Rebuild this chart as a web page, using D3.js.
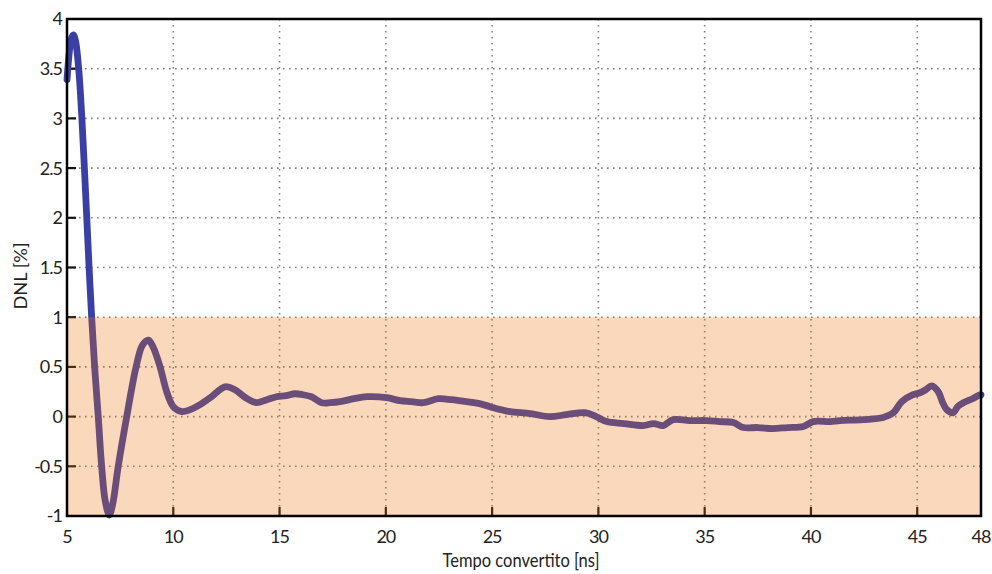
<!DOCTYPE html>
<html>
<head>
<meta charset="utf-8">
<script src="https://cdn.jsdelivr.net/npm/d3@7/dist/d3.min.js"></script>
<style>
  html, body { margin: 0; padding: 0; background: #fff; }
  svg { display: block; }
  .tick-label { font-family: Lato, "Open Sans", Arial, sans-serif; font-size: 18px; letter-spacing: -1px; fill: #222; }
  .axis-title { font-family: Lato, "Open Sans", Arial, sans-serif; fill: #222; }
</style>
</head>
<body>
<svg id="chart" width="992" height="574"></svg>
<script>
// Converted time (ns) and differential non-linearity (%)
const tempoNs = [
  5.00, 5.10, 5.20, 5.30, 5.40, 5.55, 5.70, 5.93, 6.04, 6.16,
  6.30, 6.47, 6.63, 6.80, 6.99, 7.15, 7.41, 7.81, 8.25, 8.55,
  8.83, 9.05, 9.38, 9.69, 10.0, 10.4, 10.8, 11.26, 11.8, 12.43,
  12.9, 13.4, 13.92, 14.4, 14.86, 15.3, 15.73, 16.1, 16.5, 16.98,
  17.4, 17.84, 18.5, 19.1, 20.04, 20.67, 21.2, 21.76, 22.47, 23.1,
  23.8, 24.4, 24.9, 25.4, 25.84, 26.8, 27.72, 28.5, 29.37, 29.9,
  30.39, 31.2, 32.1, 32.6, 33.05, 33.52, 34.3, 35.1, 35.7, 36.35,
  36.82, 37.5, 38.2, 38.9, 39.64, 40.1, 40.9, 41.36, 42.46, 43.4,
  43.88, 44.27, 44.8, 45.13, 45.4, 45.68, 45.99, 46.2, 46.39, 46.7,
  46.9, 47.17, 47.6, 47.95, 48.0
];
const dnlPct = [
  3.39, 3.65, 3.80, 3.84, 3.78, 3.50, 3.00, 2.00, 1.50, 1.00,
  0.50, 0.00, -0.50, -0.85, -0.99, -0.88, -0.50, 0.00, 0.50, 0.72,
  0.77, 0.70, 0.50, 0.25, 0.10, 0.05, 0.07, 0.12, 0.20, 0.30,
  0.27, 0.19, 0.14, 0.17, 0.20, 0.21, 0.23, 0.22, 0.20, 0.14,
  0.14, 0.15, 0.18, 0.20, 0.19, 0.16, 0.15, 0.14, 0.18, 0.17,
  0.15, 0.13, 0.10, 0.07, 0.05, 0.03, 0.00, 0.02, 0.04, 0.00,
  -0.05, -0.07, -0.09, -0.07, -0.09, -0.03, -0.04, -0.04, -0.05, -0.06,
  -0.11, -0.11, -0.12, -0.11, -0.10, -0.05, -0.05, -0.04, -0.03, -0.01,
  0.04, 0.15, 0.22, 0.24, 0.27, 0.31, 0.25, 0.14, 0.07, 0.04,
  0.10, 0.14, 0.18, 0.22, 0.22
];
const xTicks = [5, 10, 15, 20, 25, 30, 35, 40, 45, 48];
const yTicks = [-1, -0.5, 0, 0.5, 1, 1.5, 2, 2.5, 3, 3.5, 4];
const toleranceBand = [-1, 1];

const svg = d3.select("#chart");
const mLeft = 67, mRight = 981, mTop = 19, mBottom = 516;

const x = d3.scaleLinear().domain([5, 48]).range([mLeft, mRight]);
const y = d3.scaleLinear().domain([-1, 4]).range([mBottom, mTop]);

// dotted grid
const grid = svg.append("g");
grid.selectAll("line.gx").data(xTicks.filter(t => t > 5 && t < 48)).join("line")
  .attr("x1", d => x(d)).attr("x2", d => x(d))
  .attr("y1", mTop).attr("y2", mBottom)
  .attr("stroke", "#808080").attr("stroke-width", 1.6)
  .attr("stroke-dasharray", "1.6,4.4");
grid.selectAll("line.gy").data(yTicks.filter(t => t > -1 && t < 4)).join("line")
  .attr("x1", mLeft).attr("x2", mRight)
  .attr("y1", d => y(d)).attr("y2", d => y(d))
  .attr("stroke", "#808080").attr("stroke-width", 1.6)
  .attr("stroke-dasharray", "1.6,4.4");

// inner tick marks
const tk = svg.append("g");
tk.selectAll("line.tx").data(xTicks.filter(t => t > 5 && t < 48)).join("line")
  .attr("x1", d => x(d)).attr("x2", d => x(d))
  .attr("y1", mBottom).attr("y2", mBottom - 9)
  .attr("stroke", "#111").attr("stroke-width", 2.2);
tk.selectAll("line.ty").data(yTicks.filter(t => t > -1 && t < 4)).join("line")
  .attr("x1", mLeft).attr("x2", mLeft + 9)
  .attr("y1", d => y(d)).attr("y2", d => y(d))
  .attr("stroke", "#111").attr("stroke-width", 2.2);

// DNL curve
const pts = tempoNs.map((t, i) => [t, dnlPct[i]]);
const line = d3.line().x(d => x(d[0])).y(d => y(d[1])).curve(d3.curveCatmullRom.alpha(0.5));
svg.append("path").datum(pts)
  .attr("d", line)
  .attr("fill", "none")
  .attr("stroke", "#3a3fa6")
  .attr("stroke-width", 6.8)
  .attr("stroke-linejoin", "round")
  .attr("stroke-linecap", "round");

// tolerance band ±1 %
svg.append("rect")
  .attr("x", x(5)).attr("width", x(48) - x(5))
  .attr("y", y(toleranceBand[1])).attr("height", y(toleranceBand[0]) - y(toleranceBand[1]))
  .attr("fill", "rgb(237,116,12)").attr("fill-opacity", 0.28);

// frame
svg.append("rect")
  .attr("x", mLeft).attr("y", mTop).attr("width", mRight - mLeft).attr("height", mBottom - mTop)
  .attr("fill", "none").attr("stroke", "#000").attr("stroke-width", 2.5);

// tick labels
svg.append("g").selectAll("text").data(yTicks).join("text")
  .attr("class", "tick-label")
  .attr("x", mLeft - 5).attr("y", d => y(d)).attr("dy", "0.36em")
  .attr("text-anchor", "end")
  .text(d => String(d));
svg.append("g").selectAll("text").data(xTicks).join("text")
  .attr("class", "tick-label")
  .attr("x", d => x(d)).attr("y", mBottom + 27)
  .attr("text-anchor", "middle")
  .text(d => String(d));

// axis titles
svg.append("text").attr("class", "axis-title")
  .attr("x", 521).attr("y", 567)
  .attr("text-anchor", "middle").attr("font-size", 19)
  .attr("textLength", 157).attr("lengthAdjust", "spacingAndGlyphs")
  .text("Tempo convertito [ns]");
svg.append("text").attr("class", "axis-title")
  .attr("transform", "translate(27,276) rotate(-90)")
  .attr("text-anchor", "middle").attr("font-size", 17)
  .attr("textLength", 67).attr("lengthAdjust", "spacingAndGlyphs")
  .text("DNL [%]");
</script>
</body>
</html>
